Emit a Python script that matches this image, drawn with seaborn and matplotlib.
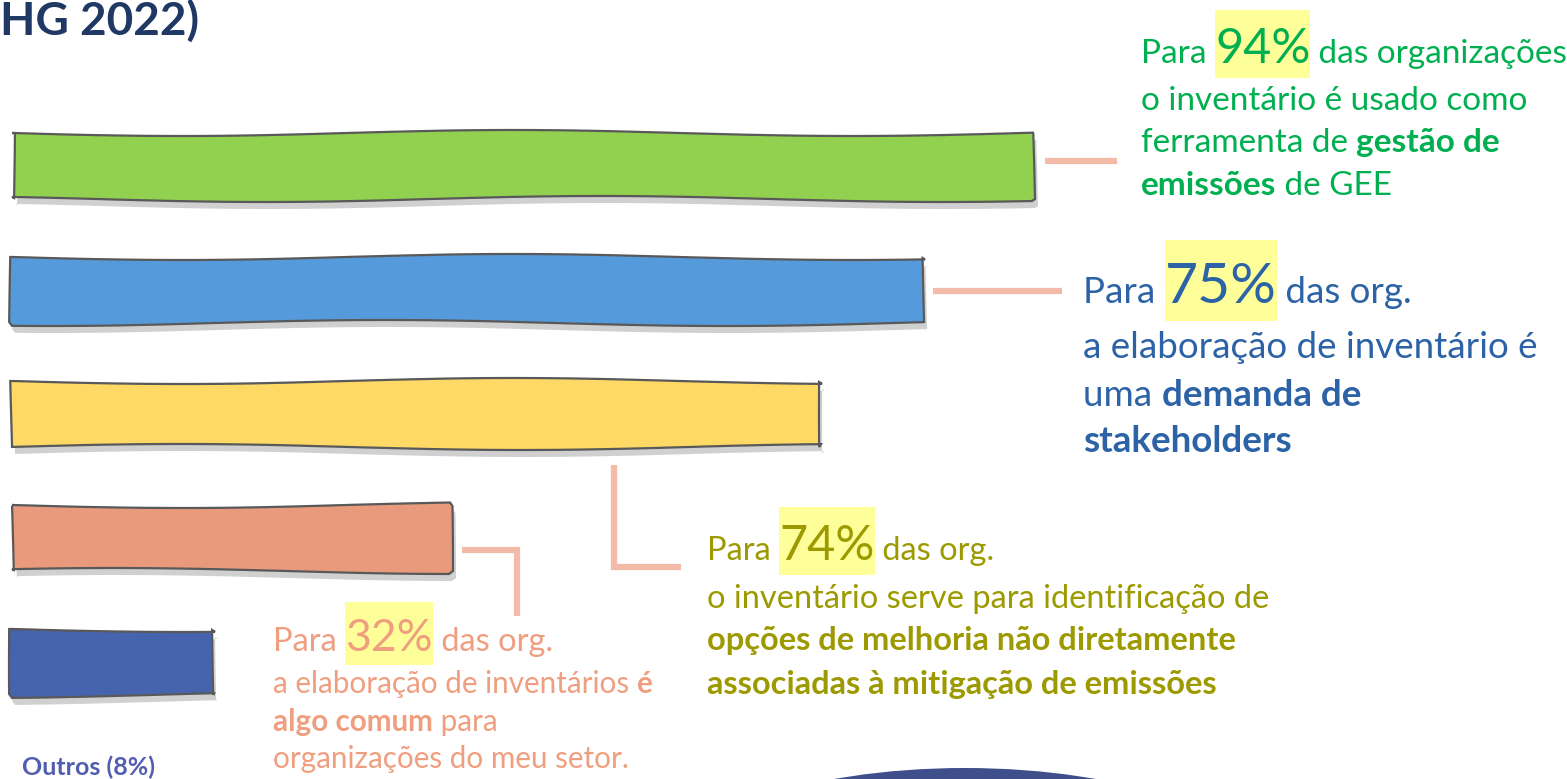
import matplotlib
matplotlib.use("Agg")
import numpy as np
import pandas as pd
import seaborn as sns
from matplotlib import pyplot as plt
from matplotlib import patheffects as pe
from matplotlib.lines import Line2D
from matplotlib.patches import Ellipse, Rectangle

W, H = 1567, 779

# bars (top to bottom); drawn lengths are not to scale in the original
categories = ["Gestão de emissões", "Demanda de stakeholders", "Opções de melhoria",
              "Algo comum no setor", "Outros"]
pct_values = [94, 75, 74, 32, 8]
bar_length = [94, 84.1, 74.6, 40.3, 18.7]
bar_colors = ["#92D050", "#559BDC", "#FFD966", "#EA9A7C", "#4664AE"]

green_lines = [
    [("Para ", "normal"), ("{}%", "pct"), (" das organizações", "normal")],
    [("o inventário é usado como", "normal")],
    [("ferramenta de ", "normal"), ("gestão de", "bold")],
    [("emissões", "bold"), (" de GEE", "normal")],
]
blue_lines = [
    [("Para ", "normal"), ("{}%", "pct"), (" das org.", "normal")],
    [("a elaboração de inventário é", "normal")],
    [("uma ", "normal"), ("demanda de", "bold")],
    [("stakeholders", "bold")],
]
olive_lines = [
    [("Para ", "normal"), ("{}%", "pct"), (" das org.", "normal")],
    [("o inventário serve para identificação de", "normal")],
    [("opções de melhoria não diretamente", "bold")],
    [("associadas à mitigação de emissões", "bold")],
]
orange_lines = [
    [("Para ", "normal"), ("{}%", "pct"), (" das org.", "normal")],
    [("a elaboração de inventários ", "normal"), ("é", "bold")],
    [("algo comum", "bold"), (" para", "normal")],
    [("organizações do meu setor.", "normal")],
]

sns.set_theme(style="white")
plt.rcParams["font.family"] = ["Lato", "DejaVu Sans"]

fig = plt.figure(figsize=(W / 100, H / 100), dpi=100)
fig.patch.set_facecolor("white")
ax = fig.add_axes([0, 0, 1, 1])

df = pd.DataFrame({"categoria": categories, "valor": bar_length})
sns.barplot(data=df, x="valor", y="categoria", hue="categoria", palette=bar_colors,
            legend=False, orient="h", width=0.53, saturation=1, edgecolor="#595959",
            linewidth=1.6, ax=ax)

k = 1021 / 94  # px per unit
ax.set_xlim(-12 / k, (W - 12) / k)
ax.set_ylim((H - 166) / 124, -166 / 124)
ax.axis("off")

for p in ax.patches:
    p.set_sketch_params(scale=3, length=700, randomness=1.5)
    p.set_path_effects([pe.SimplePatchShadow(offset=(2, -5), shadow_rgbFace="#8a8a8a", alpha=0.4),
                        pe.Normal()])

renderer = fig.canvas.get_renderer()


def text_width(s, size, weight):
    t = fig.text(0, 0, "|" + s + "|", fontsize=size, fontweight=weight)
    w1 = t.get_window_extent(renderer).width
    t.set_text("||")
    w0 = t.get_window_extent(renderer).width
    t.remove()
    return w1 - w0


def draw_block(x0, baselines, lines, sizes, big, color, pct):
    for runs, yb, size in zip(lines, baselines, sizes):
        x = x0
        for s, kind in runs:
            if kind == "pct":
                s = s.format(pct)
                fs, fw = big, "normal"
            else:
                fs, fw = size, kind
            t = fig.text(x / W, 1 - yb / H, s, fontsize=fs, fontweight=fw, color=color,
                         ha="left", va="baseline", zorder=3)
            if kind == "pct":
                # yellow highlight behind the percentage
                bb = t.get_window_extent(renderer)
                em = fs * 100 / 72
                y0 = H - yb - 0.31 * em
                fig.add_artist(Rectangle((bb.x0 / W, y0 / H), bb.width / W, 1.41 * em / H,
                                         transform=fig.transFigure, facecolor="#FFFF99",
                                         edgecolor="none", zorder=1))
            x += text_width(s, fs, fw)


draw_block(1141, [63, 110, 152, 195], green_lines, [24] * 4, 35, "#00B050", pct_values[0])
draw_block(1083, [303, 358, 406, 452], blue_lines, [26.5] * 4, 41, "#2C62A6", pct_values[1])
draw_block(707, [560, 608, 650, 694], olive_lines, [23.5] * 4, 35, "#9C9A00", pct_values[2])
draw_block(273, [651, 693, 731, 768], orange_lines, [23.5, 21.3, 21.3, 21.3], 32, "#EF9E7F",
           pct_values[3])

fig.text(22 / W, 1 - 775 / H, f"Outros ({pct_values[4]}%)", fontsize=18, fontweight="bold",
         color="#525DB0", ha="left", va="baseline")
fig.text(0, 1 - 35 / H, "HG 2022)", fontsize=33, fontweight="bold", color="#1F3864",
         ha="left", va="baseline")

# connectors
conn = dict(color="#F2BBA8", lw=4.5, solid_capstyle="butt", solid_joinstyle="miter")
for xs, ys in [([1045, 1117], [161, 161]),
               ([933, 1062], [291, 291]),
               ([614, 614, 681], [465, 567, 567]),
               ([462, 517, 517], [550, 550, 616])]:
    fig.add_artist(Line2D(np.array(xs) / W, 1 - np.array(ys) / H, **conn))

fig.add_artist(Ellipse((965 / W, 1 - 878 / H), 600 / W, 220 / H, facecolor="#3F4F8C",
                       edgecolor="none"))

fig.savefig("out.png", dpi=100)
